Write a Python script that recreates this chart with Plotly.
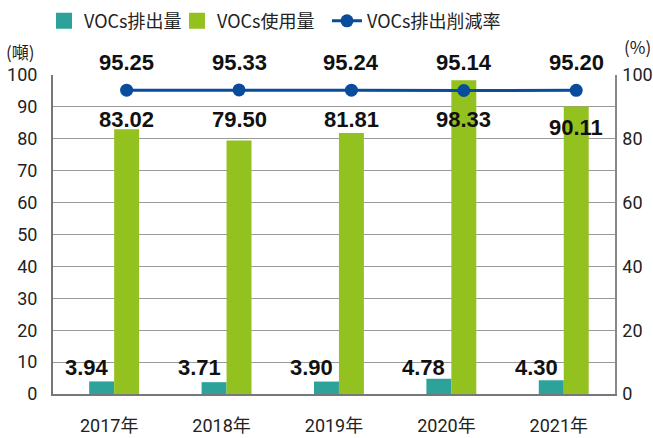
import plotly.graph_objects as go

years = ["2017年", "2018年", "2019年", "2020年", "2021年"]
emission = [3.94, 3.71, 3.90, 4.78, 4.30]
usage = [83.02, 79.50, 81.81, 98.33, 90.11]
reduction = [95.25, 95.33, 95.24, 95.14, 95.20]

TEAL = "#2ca29a"
GREEN = "#93c11f"
BLUE = "#0a4c9c"
BAR_W = 0.222
TEAL_OFF = -0.178
GREEN_OFF = TEAL_OFF + BAR_W
Y_MIN, Y_MAX = 0, 100

xs = list(range(len(years)))
green_c = [x + GREEN_OFF + BAR_W / 2 for x in xs]

fig = go.Figure()
fig.add_trace(go.Bar(
    x=xs, y=emission, name="VOCs排出量", marker_color=TEAL,
    width=BAR_W, offset=TEAL_OFF, marker_line_width=0, showlegend=False,
))
fig.add_trace(go.Bar(
    x=xs, y=usage, name="VOCs使用量", marker_color=GREEN,
    width=BAR_W, offset=GREEN_OFF, marker_line_width=0, showlegend=False,
))
fig.add_trace(go.Scatter(
    x=green_c, y=reduction, name="VOCs排出削減率", yaxis="y2",
    mode="lines+markers", line=dict(color=BLUE, width=3),
    marker=dict(color=BLUE, size=13), showlegend=False,
))
# legend entries (one legend per item to reproduce the spacing)
fig.add_trace(go.Scatter(x=[None], y=[None], mode="markers", name="VOCs排出量",
                         marker=dict(symbol="square", size=18, color=TEAL), legend="legend"))
fig.add_trace(go.Scatter(x=[None], y=[None], mode="markers", name="VOCs使用量",
                         marker=dict(symbol="square", size=18, color=GREEN), legend="legend2"))
fig.add_trace(go.Scatter(x=[None], y=[None], mode="lines+markers", name="VOCs排出削減率",
                         line=dict(color=BLUE, width=3),
                         marker=dict(color=BLUE, size=13), legend="legend3"))

lblfont = dict(family="Liberation Sans", size=22, color="#111111")
annotations = []
for i in xs:
    annotations.append(dict(x=i - 0.2, y=8.3, xref="x", yref="y",
                            text=f"<b>{emission[i]:.2f}</b>", showarrow=False,
                            font=lblfont, xanchor="center", yanchor="middle"))
    annotations.append(dict(x=green_c[i], y=(83.4 if i == 4 else 85.9), xref="x", yref="y",
                            text=f"<b>{usage[i]:.2f}</b>", showarrow=False,
                            font=lblfont, xanchor="center", yanchor="middle"))
    annotations.append(dict(x=green_c[i], y=(104.0 - Y_MIN) / (Y_MAX - Y_MIN),
                            xref="x", yref="paper",
                            text=f"<b>{reduction[i]:.2f}</b>", showarrow=False,
                            font=lblfont, xanchor="center", yanchor="middle"))

annotations += [
    dict(text="(噸)", xref="paper", yref="paper", x=-0.088, y=1.075,
         xanchor="left", yanchor="middle", showarrow=False,
         font=dict(family="Noto Sans CJK TC", size=17, color="#222222")),
    dict(text="(%)", xref="paper", yref="paper", x=1.012, y=1.09,
         xanchor="left", yanchor="middle", showarrow=False,
         font=dict(family="Noto Sans CJK TC", size=17, color="#222222")),
]

tickfont = dict(family="Roboto, Noto Sans CJK TC", size=18, color="#222222")
legfont = dict(family="Noto Sans CJK TC", size=18, color="#222222")
leg_common = dict(orientation="h", y=1.169, yanchor="middle", xanchor="left",
                  font=legfont, itemwidth=30, bgcolor="rgba(0,0,0,0)")

fig.update_layout(
    width=653, height=438,
    margin=dict(l=53, r=38, t=75, b=44, autoexpand=False),
    paper_bgcolor="white", plot_bgcolor="white",
    barmode="overlay",
    showlegend=True,
    legend=dict(x=-0.016, **leg_common),
    legend2=dict(x=0.2206, **leg_common),
    legend3=dict(x=0.4875, **leg_common),
    xaxis=dict(
        range=[-0.5, 4.5], tickvals=xs, ticktext=years, tickfont=tickfont,
        showgrid=False, showline=True, linecolor="#777777", linewidth=2,
        ticks="", ticklabelstandoff=14, zeroline=False, fixedrange=True,
    ),
    yaxis=dict(
        range=[Y_MIN, Y_MAX], dtick=10, tickfont=tickfont,
        showgrid=True, gridcolor="#999999", gridwidth=1,
        showline=True, linecolor="#777777", linewidth=2, mirror=False,
        ticks="", ticklabelstandoff=10, zeroline=False,
    ),
    yaxis2=dict(
        range=[0, 100], dtick=20, tickfont=tickfont, overlaying="y",
        side="right", showgrid=False, showline=True, linecolor="#888888",
        linewidth=1.5, ticks="", ticklabelstandoff=2, zeroline=False,
    ),
    annotations=annotations,
)

fig.write_html("out.html", config={"displayModeBar": False},
               post_script="document.body.style.margin='0';")
